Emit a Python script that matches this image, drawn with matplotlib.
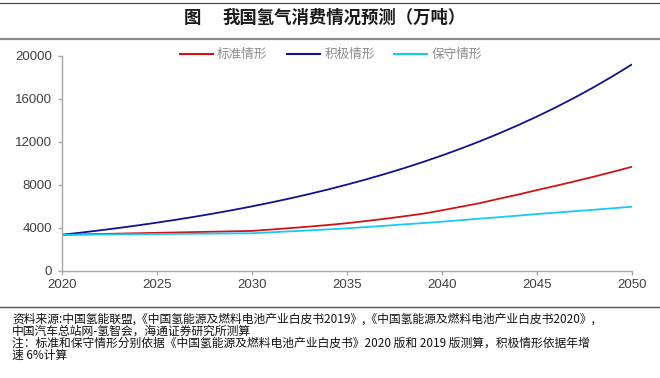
import matplotlib
matplotlib.use("Agg")
import matplotlib.pyplot as plt
from matplotlib.lines import Line2D

plt.rcParams['font.family'] = ['Liberation Sans', 'Noto Sans CJK SC', 'DejaVu Sans']

years = list(range(2020, 2051))
standard = [3342, 3378, 3414, 3450, 3486, 3522, 3558, 3594, 3630, 3666, 3700,
            3830, 3960, 4100, 4250, 4420, 4620, 4830, 5060, 5300, 5620,
            5950, 6290, 6690, 7080, 7500, 7900, 8320, 8750, 9200, 9670]
active = [3342, 3543, 3755, 3980, 4219, 4472, 4741, 5025, 5327, 5646, 5985,
          6344, 6725, 7128, 7556, 8009, 8490, 8999, 9539, 10112, 10718,
          11361, 12043, 12766, 13532, 14343, 15204, 16116, 17083, 18108, 19195]
conservative = [3342, 3356, 3370, 3384, 3398, 3412, 3426, 3440, 3454, 3468, 3480,
                3570, 3660, 3750, 3845, 3940, 4060, 4180, 4310, 4430, 4560,
                4700, 4840, 4980, 5120, 5270, 5400, 5540, 5670, 5810, 5950]
series_names = ['标准情形', '积极情形', '保守情形']
colors = ['#D01414', '#12128C', '#18C8F8']
xticks = [2020, 2025, 2030, 2035, 2040, 2045, 2050]
yticks = [0, 4000, 8000, 12000, 16000, 20000]

title_prefix = '图'
title = '我国氢气消费情况预测（万吨）'
source_lines = [
    '资料来源:中国氢能联盟,《中国氢能源及燃料电池产业白皮书2019》,《中国氢能源及燃料电池产业白皮书2020》,',
    '中国汽车总站网-氢智会，海通证券研究所测算',
    '注：标准和保守情形分别依据《中国氢能源及燃料电池产业白皮书》2020 版和 2019 版测算，积极情形依据年增',
    '速 6%计算',
]

W, H = 660, 378
fig = plt.figure(figsize=(W / 100, H / 100), dpi=100)
ax = fig.add_axes([62 / W, 1 - 270.7 / H, (632 - 62) / W, (270.7 - 55.7) / H])

for vals, c in zip([standard, active, conservative], colors):
    ax.plot(years, vals, color=c, lw=1.3, solid_capstyle='butt')

ax.set_xlim(2020, 2050)
ax.set_ylim(0, 20000)
ax.set_xticks(xticks)
ax.set_yticks(yticks)
for s in ['top', 'right']:
    ax.spines[s].set_visible(False)
for s in ['left', 'bottom']:
    ax.spines[s].set_color('#A6A6A6')
    ax.spines[s].set_linewidth(1.0)
ax.tick_params(axis='both', colors='#A6A6A6', labelcolor='#404040', labelsize=9.5,
               length=3, width=1.0, direction='out')
ax.tick_params(axis='x', pad=3)
ax.tick_params(axis='y', pad=4)

handles = [Line2D([], [], color=c, lw=1.5) for c in colors]
leg = fig.legend(handles, series_names, loc='center', bbox_to_anchor=(331 / W, 1 - 54.7 / H),
                 ncol=3, frameon=False, handlelength=2.6, handletextpad=0.35,
                 columnspacing=1.55, prop={'family': ['Noto Sans CJK SC'], 'size': 9.1})
for t in leg.get_texts():
    t.set_color('#8C8C8C')

# title
fig.text(192 / W, 1 - 18 / H, title_prefix, ha='center', va='center', fontsize=12.5,
         fontweight='bold', family=['Noto Sans CJK SC'], color='#1A1A1A')
fig.text(222 / W, 1 - 18 / H, title, ha='left', va='center', fontsize=12.5,
         fontweight='bold', family=['Noto Sans CJK SC'], color='#1A1A1A')
fig.add_artist(Line2D([0, 1], [1 - 3.4 / H, 1 - 3.4 / H], color='#404040', lw=0.8,
                      transform=fig.transFigure))
fig.add_artist(Line2D([0, 1], [1 - 39 / H, 1 - 39 / H], color='#8C8C8C', lw=1.6,
                      transform=fig.transFigure))
fig.add_artist(Line2D([0, 1], [1 - 307 / H, 1 - 307 / H], color='#555555', lw=1.0,
                      transform=fig.transFigure))

ys = [318, 330, 342, 353.5]
for line, y in zip(source_lines, ys):
    fig.text(12 / W, 1 - y / H, line, ha='left', va='center_baseline', fontsize=8.5,
             family=['Noto Sans CJK SC', 'DejaVu Sans'], color='#111111')

fig.savefig('out.png', dpi=100)
